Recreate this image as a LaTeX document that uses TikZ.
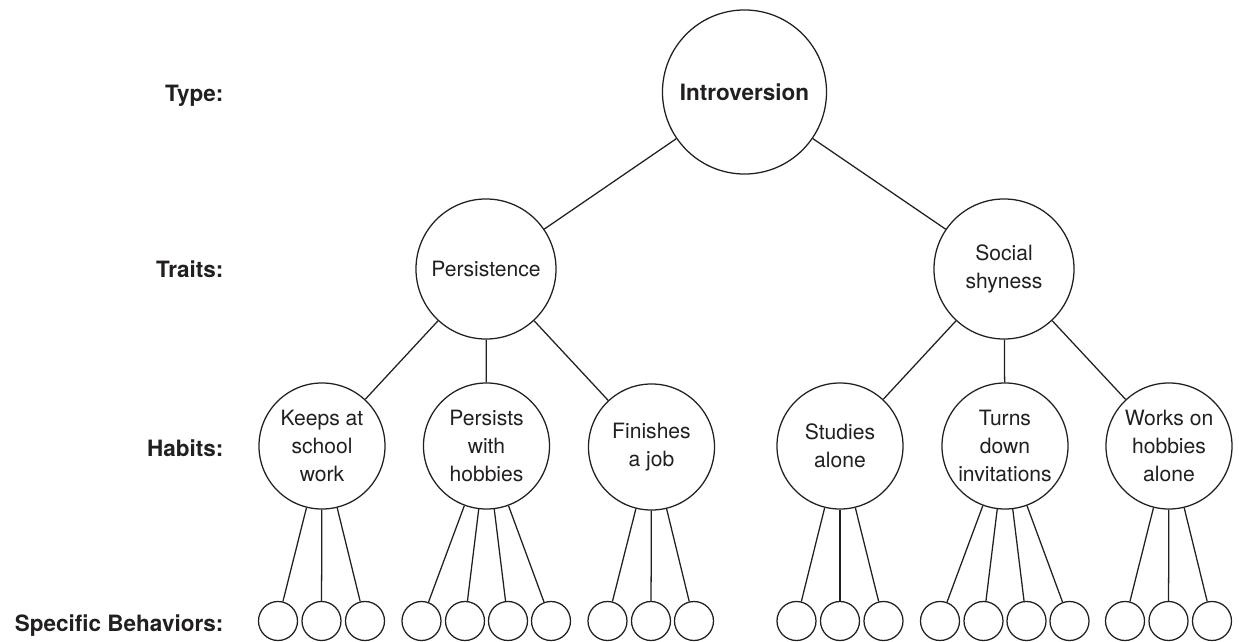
\documentclass[tikz,border=0pt]{standalone}
\usepackage{fontspec}
\setmainfont{TeX Gyre Heros}
\usepackage{xcolor}
\usepackage{tikz}
\definecolor{ink}{HTML}{231F20}

\begin{document}
\begin{tikzpicture}[x=0.025cm,y=-0.025cm,line width=0.9pt,color=ink,
    level/.style={anchor=base east,inner sep=0pt,font=\bfseries\fontsize{16}{19}\selectfont},
    typenode/.style={circle,draw,inner sep=0pt,minimum size=4.1cm,font=\bfseries\fontsize{16}{19}\selectfont},
    traitnode/.style={circle,draw,inner sep=0pt,align=center,minimum size=3.5cm,font=\fontsize{15}{19.5}\selectfont},
    habitnode/.style={circle,draw,inner sep=0pt,align=center,minimum size=3.15cm,font=\fontsize{15}{20}\selectfont},
    leaf/.style={circle,draw,inner sep=0pt,minimum size=0.975cm}]
\useasboundingbox (0,0) rectangle (1239,642);

    \node[level] (ltype) at (224,101.5) {Type:};
    \node[level] (ltraits) at (224,278) {Traits:};
    \node[level] (lhabits) at (224,457) {Habits:};
    \node[level] (lspec) at (224,632) {Specific Behaviors:};

    \node[typenode] (intro) at (744.5,92) {Introversion};

    \node[traitnode] (pers) at (486,269) {Persistence};
    \node[traitnode] (shy) at (1004,269) {Social\\shyness};

    \node[habitnode] (h1) at (322,446) {Keeps at\\school\\work};
    \node[habitnode] (h2) at (486.5,446) {Persists\\with\\hobbies};
    \node[habitnode] (h3) at (651.5,447) {Finishes\\a job};
    \node[habitnode] (h4) at (840,446) {Studies\\alone};
    \node[habitnode] (h5) at (1005,446) {Turns\\down\\invitations};
    \node[habitnode] (h6) at (1169,446) {Works on\\hobbies\\alone};

    \node[leaf] (b11) at (278,621) {};
    \node[leaf] (b12) at (321.5,621) {};
    \node[leaf] (b13) at (365,621) {};
    \node[leaf] (b21) at (421.5,621) {};
    \node[leaf] (b22) at (465,621) {};
    \node[leaf] (b23) at (508,621) {};
    \node[leaf] (b24) at (551,621) {};
    \node[leaf] (b31) at (607.5,621) {};
    \node[leaf] (b32) at (651,621) {};
    \node[leaf] (b33) at (694,621) {};
    \node[leaf] (b41) at (796.5,621) {};
    \node[leaf] (b42) at (840,621) {};
    \node[leaf] (b43) at (883.5,621) {};
    \node[leaf] (b51) at (940,621) {};
    \node[leaf] (b52) at (983.5,621) {};
    \node[leaf] (b53) at (1026.5,621) {};
    \node[leaf] (b54) at (1069.5,621) {};
    \node[leaf] (b61) at (1125,621) {};
    \node[leaf] (b62) at (1168.5,621) {};
    \node[leaf] (b63) at (1212,621) {};

    % type to traits
    \draw (intro) -- (pers);
    \draw (intro) -- (shy);

    % traits to habits
    \draw (pers) -- (h1);
    \draw (pers) -- (h2);
    \draw (pers) -- (h3);
    \draw (shy) -- (h4);
    \draw (shy) -- (h5);
    \draw (shy) -- (h6);

    % habits to behaviors
    \draw (h1) -- (b11);
    \draw (h1) -- (b12);
    \draw (h1) -- (b13);
    \draw (h2) -- (b21);
    \draw (h2) -- (b22);
    \draw (h2) -- (b23);
    \draw (h2) -- (b24);
    \draw (h3) -- (b31);
    \draw (h3) -- (b32);
    \draw (h3) -- (b33);
    \draw (h4) -- (b41);
    \draw (h4) -- (b42);
    \draw (h4) -- (b43);
    \draw (h5) -- (b51);
    \draw (h5) -- (b52);
    \draw (h5) -- (b53);
    \draw (h5) -- (b54);
    \draw (h6) -- (b61);
    \draw (h6) -- (b62);
    \draw (h6) -- (b63);

\end{tikzpicture}
\end{document}
